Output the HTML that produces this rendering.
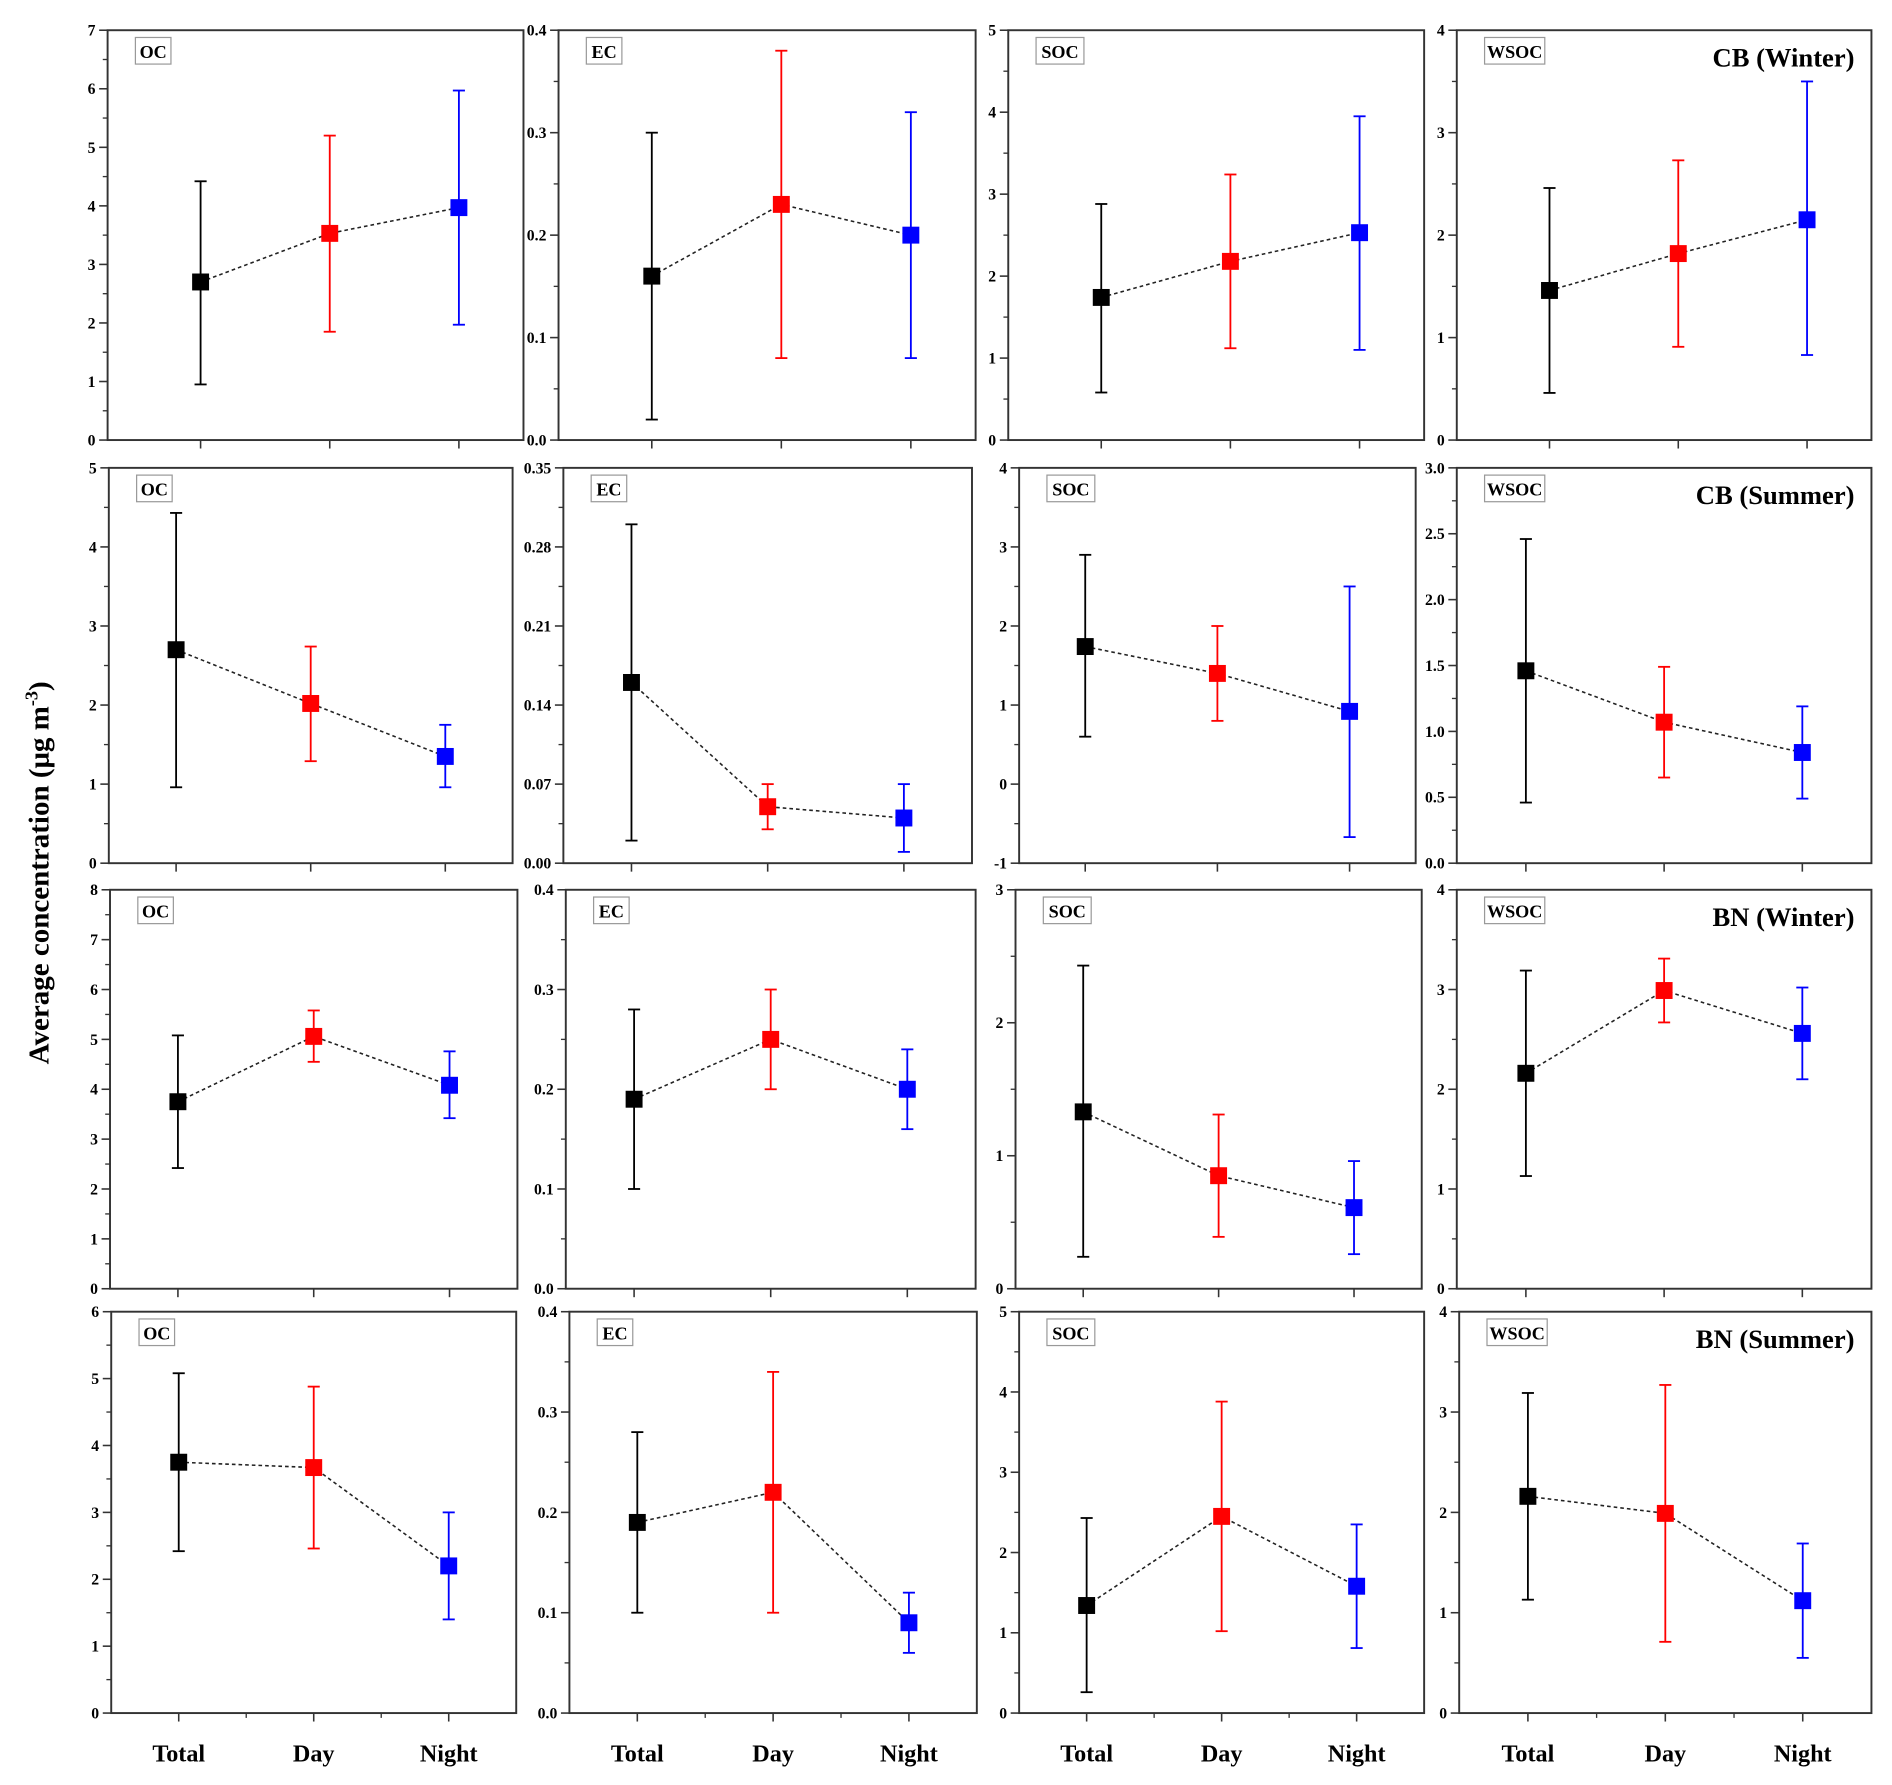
<!DOCTYPE html>
<html><head><meta charset="utf-8"><style>
html,body{margin:0;padding:0;background:#fff}
svg{display:block}
text{font-family:"Liberation Serif",serif;font-weight:bold}
</style></head><body>
<svg id="chart" width="1892" height="1785" viewBox="0 0 1565 1476.5" xmlns="http://www.w3.org/2000/svg">
<text transform="translate(40,722) rotate(-90)" text-anchor="middle" font-size="24">Average concentration (μg m<tspan dy="-9" font-size="15">-3</tspan><tspan dy="9">)</tspan></text>
</svg>
<script>
const categories = ["Total","Day","Night"];
const species = ["OC","EC","SOC","WSOC"];
const rowTitles = ["CB (Winter)","CB (Summer)","BN (Winter)","BN (Summer)"];
// means per row, per species [Total, Day, Night]
const cbWinterMean = [[2.7,3.53,3.97],[0.16,0.23,0.20],[1.74,2.18,2.53],[1.46,1.82,2.15]];
const cbWinterLow  = [[0.95,1.85,1.97],[0.02,0.08,0.08],[0.58,1.12,1.10],[0.46,0.91,0.83]];
const cbWinterHigh = [[4.42,5.2,5.97],[0.30,0.38,0.32],[2.88,3.24,3.95],[2.46,2.73,3.50]];
const cbSummerMean = [[2.7,2.02,1.35],[0.16,0.05,0.04],[1.74,1.40,0.92],[1.46,1.07,0.84]];
const cbSummerLow  = [[0.96,1.29,0.96],[0.02,0.03,0.01],[0.60,0.80,-0.67],[0.46,0.65,0.49]];
const cbSummerHigh = [[4.43,2.74,1.75],[0.30,0.07,0.07],[2.90,2.00,2.50],[2.46,1.49,1.19]];
const bnWinterMean = [[3.75,5.06,4.08],[0.19,0.25,0.20],[1.33,0.85,0.61],[2.16,2.99,2.56]];
const bnWinterLow  = [[2.42,4.55,3.42],[0.10,0.20,0.16],[0.24,0.39,0.26],[1.13,2.67,2.10]];
const bnWinterHigh = [[5.08,5.58,4.76],[0.28,0.30,0.24],[2.43,1.31,0.96],[3.19,3.31,3.02]];
const bnSummerMean = [[3.75,3.67,2.20],[0.19,0.22,0.09],[1.34,2.45,1.58],[2.16,1.99,1.12]];
const bnSummerLow  = [[2.42,2.46,1.40],[0.10,0.10,0.06],[0.26,1.02,0.81],[1.13,0.71,0.55]];
const bnSummerHigh = [[5.08,4.88,3.00],[0.28,0.34,0.12],[2.43,3.88,2.35],[3.19,3.27,1.69]];
// y tick labels per row, per species
const cbWinterTicks = [["0","1","2","3","4","5","6","7"],["0.0","0.1","0.2","0.3","0.4"],["0","1","2","3","4","5"],["0","1","2","3","4"]];
const cbSummerTicks = [["0","1","2","3","4","5"],["0.00","0.07","0.14","0.21","0.28","0.35"],["-1","0","1","2","3","4"],["0.0","0.5","1.0","1.5","2.0","2.5","3.0"]];
const bnWinterTicks = [["0","1","2","3","4","5","6","7","8"],["0.0","0.1","0.2","0.3","0.4"],["0","1","2","3"],["0","1","2","3","4"]];
const bnSummerTicks = [["0","1","2","3","4","5","6"],["0.0","0.1","0.2","0.3","0.4"],["0","1","2","3","4","5"],["0","1","2","3","4"]];

const means=[cbWinterMean,cbSummerMean,bnWinterMean,bnSummerMean];
const lows=[cbWinterLow,cbSummerLow,bnWinterLow,bnSummerLow];
const highs=[cbWinterHigh,cbSummerHigh,bnWinterHigh,bnSummerHigh];
const ticks=[cbWinterTicks,cbSummerTicks,bnWinterTicks,bnSummerTicks];
const colors=["#000","#f00","#00f"];
const rowBox=[[25,364],[387,714],[736,1066],[1085,1417]];
const colBox=[[[89,433],[462,807],[834,1178],[1205,1548]],
              [[90,424],[466,804],[843,1171],[1205,1548]],
              [[91,428],[468,807],[840,1176],[1205,1548]],
              [[92,427],[471,808],[843,1178],[1207,1548]]];
const svg=document.getElementById('chart');
const NS="http://www.w3.org/2000/svg";
function mk(tag,attrs,parent){const e=document.createElementNS(NS,tag);for(const k in attrs)e.setAttribute(k,attrs[k]);(parent||svg).appendChild(e);return e;}

for(let r=0;r<4;r++){
 for(let c=0;c<4;c++){
  const [x0,x1]=colBox[r][c];const [y0,y1]=rowBox[r];
  const g=mk('g',{});
  
  
  const tl=ticks[r][c];
  const ymin=parseFloat(tl[0]), ymax=parseFloat(tl[tl.length-1]);
  const xmin=r===0?0.28:0.5, xmax=3.5;
  const X=v=>x0+(v-xmin)/(xmax-xmin)*(x1-x0);
  const Y=v=>y1-(v-ymin)/(ymax-ymin)*(y1-y0);
  const frame=mk('rect',{x:x0,y:y0,width:x1-x0,height:y1-y0,fill:'none',stroke:'#333','stroke-width':1.6},g);
  
  
  for(let i=0;i<tl.length;i++){
   const v=parseFloat(tl[i]);
   mk('line',{x1:x0-7,x2:x0,y1:Y(v),y2:Y(v),stroke:'#333','stroke-width':1.3},g);
   const t=mk('text',{x:x0-10,y:Y(v)+4.5,'text-anchor':'end','font-size':13},g);
   t.textContent=tl[i];
   
   
   if(i<tl.length-1){const m=(v+parseFloat(tl[i+1]))/2;
    mk('line',{x1:x0-4,x2:x0,y1:Y(m),y2:Y(m),stroke:'#333','stroke-width':1.1},g);}
  }
  for(let k=0;k<3;k++){
   mk('line',{x1:X(k+1),x2:X(k+1),y1:y1,y2:y1+7,stroke:'#333','stroke-width':1.3},g);
   if(r===3&&k<2) mk('line',{x1:X(k+1.5),x2:X(k+1.5),y1:y1,y2:y1+4,stroke:'#333','stroke-width':1.1},g);
  }
  const lb=mk('g',{},g);
  
  
  const w=species[c].length*10.2+9;
  mk('rect',{x:x0+23,y:y0+6,width:w,height:22,fill:'#fff',stroke:'#999','stroke-width':1},lb);
  const st=mk('text',{x:x0+23+w/2,y:y0+23,'text-anchor':'middle','font-size':15},lb);
  st.textContent=species[c];
  if(c===3){
   const rt=mk('text',{x:x1-14,y:y0+30,'text-anchor':'end','font-size':22},g);
   rt.textContent=rowTitles[r];
   
   
  }
  const m=means[r][c];
  const pts=m.map((v,k)=>X(k+1)+','+Y(v)).join(' ');
  const pl=mk('polyline',{points:pts,fill:'none',stroke:'#222','stroke-width':1.3,'stroke-dasharray':'3,2.5'},g);
  
  
  for(let k=0;k<3;k++){
   const cx=X(k+1);
   const eb=mk('g',{stroke:colors[k],'stroke-width':1.5},g);
   
   
   mk('line',{x1:cx,x2:cx,y1:Y(lows[r][c][k]),y2:Y(highs[r][c][k])},eb);
   mk('line',{x1:cx-5,x2:cx+5,y1:Y(lows[r][c][k]),y2:Y(lows[r][c][k])},eb);
   mk('line',{x1:cx-5,x2:cx+5,y1:Y(highs[r][c][k]),y2:Y(highs[r][c][k])},eb);
   const sq=mk('rect',{x:cx-7,y:Y(m[k])-7,width:14,height:14,fill:colors[k]},g);
   
   
  }
  if(r===3){
   for(let k=0;k<3;k++){
    const xt=mk('text',{x:X(k+1),y:1457,'text-anchor':'middle','font-size':20},g);
    xt.textContent=categories[k];
    
    
   }
  }
 }
}
</script>
</body></html>
